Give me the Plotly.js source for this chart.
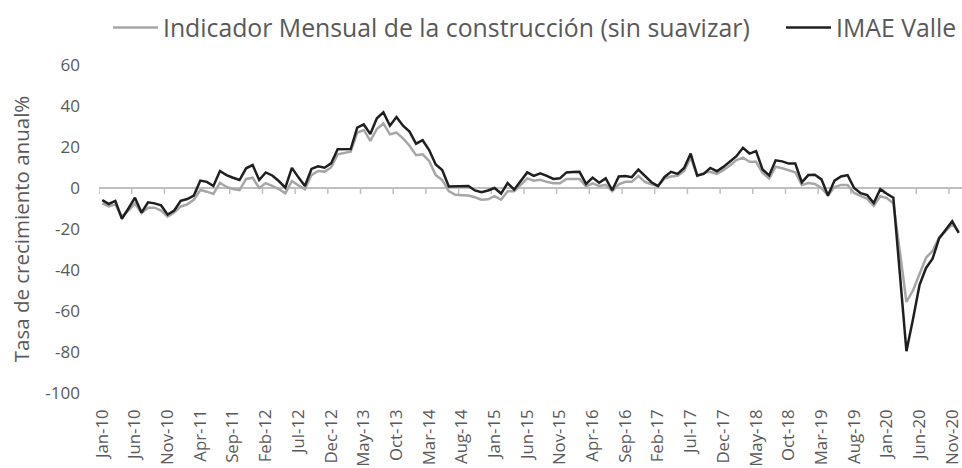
<!DOCTYPE html>
<html>
<head>
<meta charset="utf-8">
<script src="https://cdn.plot.ly/plotly-3.0.1.min.js"></script>
<style>html,body{margin:0;padding:0;background:#fff;}#chart{width:962px;height:468px;}</style>
</head>
<body>
<div id="chart"></div>
<script>
const monthNames = ["Jan","Feb","Mar","Apr","May","Jun","Jul","Aug","Sep","Oct","Nov","Dec"];
const years = ["10","11","12","13","14","15","16","17","18","19","20"];
const categories = [];
years.forEach(y => monthNames.forEach(m => categories.push(m + "-" + y)));

const seriesNames = ["Indicador Mensual de la construcción (sin suavizar)", "IMAE Valle"];

const construccion = [
  -7.5, -9, -8, -14, -11, -7.5, -12.3, -9.6, -9.6, -11, -14, -12,
  -9, -8, -5.8, -1, -1.8, -2.9, 2.6, 0.5, -0.5, -1, 4.4, 5,
  0, 2.4, 1, -0.5, -2.6, 3.4, 1.3, -0.6, 6.3, 8.3, 8, 10,
  16.4, 17.2, 17.7, 27, 28.3, 23, 28.8, 31.5, 26.2, 27, 24.2, 20.6,
  16, 16.4, 13.2, 6.3, 3.9, -1.5, -3.3, -3.5, -3.7, -4.5, -5.7, -5.5,
  -4, -5.7, -1.6, -1.6, 1.5, 4.7, 3.6, 4, 3, 2.3, 2.3, 4.4,
  4.4, 4.4, 0.8, 2.3, 1, 1.5, -1.6, 1.8, 3, 3, 5.9, 3,
  1.8, 0.9, 4.6, 5.6, 6, 8.3, 14.8, 5.8, 7.4, 7.9, 6.9, 8.7,
  11, 13.6, 14.8, 12.8, 12.8, 7.4, 4.6, 10.4, 9.6, 8.6, 7.7, 1.5,
  2.4, 2, 0, -3.7, 0.5, 1.5, 1.5, -2.4, -4, -5.3, -8.7, -4,
  -4.9, -7.4, -31, -55.6, -50, -42, -34, -30.7, -24.2, -21, -17.6, -21.2
];

const imaeValle = [
  -5.9, -7.8, -6.3, -15, -10, -4.7, -12, -7, -7.5, -8.5, -13, -11,
  -6.3, -5.4, -3.7, 3.6, 3, 1, 8.3, 6.3, 5, 3.9, 9.6, 11.2,
  3.9, 7.6, 6.1, 3.4, 0.2, 9.8, 5.2, 1, 9.3, 10.6, 9.9, 12,
  18.9, 18.9, 19, 29.4, 31, 26.3, 34, 36.9, 30.4, 34.6, 30.4, 27.5,
  21.6, 23.3, 18.5, 11.5, 8.8, 0.7, 0.8, 1, 1, -1.2, -2.1, -1.2,
  0, -2.7, 2.4, -0.8, 3.5, 7.6, 5.9, 7.2, 5.9, 4.4, 4.7, 7.6,
  7.8, 7.9, 2, 5.1, 2.6, 4.7, -1.1, 5.6, 5.8, 5.3, 9, 5.8,
  2.8, 0.9, 5.4, 7.9, 6.9, 9.8, 16.8, 6.1, 6.9, 9.8, 8.2, 10.3,
  13.1, 15.5, 19.6, 16.8, 18, 9, 6.1, 13.5, 13, 11.9, 11.9, 2.8,
  6.3, 6.5, 4.2, -3.7, 3.6, 5.6, 6.3, 0, -2.5, -3.5, -7.3, -0.6,
  -2.8, -4.7, -42, -79.6, -64, -47.4, -39, -34.5, -24.6, -20.5, -16.2, -21.9
];

const yTickVals = [-100, -80, -60, -40, -20, 0, 20, 40, 60];
const yTickText = yTickVals.map(v => String(v));
const xTickLabels = categories.filter((c, i) => i % 5 === 0);

const textColor = "#595959";
const axisColor = "#bfbfbf";
const yMin = -100, yMax = 60;

// small tick marks hanging from the zero axis at category boundaries (every 5 months)
const tickShapes = categories
  .map((c, i) => i)
  .filter(i => i % 5 === 0)
  .map(i => ({
    type: "line", xref: "x", yref: "y", ysizemode: "pixel", yanchor: 0,
    x0: i - 0.5, x1: i - 0.5, y0: 0, y1: -6,
    line: {color: axisColor, width: 1.5}, layer: "below"
  }));

const traces = [
  {x: categories, y: construccion, name: seriesNames[0], type: "scatter", mode: "lines",
   line: {color: "#a6a6a6", width: 2.5}, hoverinfo: "x+y", legend: "legend"},
  {x: categories, y: imaeValle, name: seriesNames[1], type: "scatter", mode: "lines",
   line: {color: "#1f1f1f", width: 2.5}, hoverinfo: "x+y", legend: "legend2"}
];

const legendFont = {family: "Open Sans", size: 24.8, color: textColor};

const layout = {
  width: 962, height: 468,
  margin: {l: 99, r: 0, t: 65, b: 75, pad: 0},
  paper_bgcolor: "#ffffff", plot_bgcolor: "#ffffff",
  font: {family: "Open Sans, sans-serif", color: textColor},
  showlegend: true,
  legend: {orientation: "h", x: 0.0104, xanchor: "left", y: 1.183, yanchor: "top",
           font: legendFont, itemwidth: 45, bgcolor: "rgba(0,0,0,0)"},
  legend2: {orientation: "h", x: 0.7903, xanchor: "left", y: 1.183, yanchor: "top",
            font: legendFont, itemwidth: 45, bgcolor: "rgba(0,0,0,0)"},
  xaxis: {type: "category", range: [-0.5, categories.length - 0.5], tickvals: xTickLabels,
          ticktext: xTickLabels, tickangle: -90, ticks: "", showline: false, showgrid: false,
          zeroline: false, tickfont: {size: 16.8, color: textColor}, ticklabelstandoff: 12},
  yaxis: {range: [yMin, yMax], tickvals: yTickVals, ticktext: yTickText, showgrid: false,
          zeroline: true, zerolinecolor: axisColor, zerolinewidth: 1.5, showline: false,
          ticks: "", tickfont: {size: 17, color: textColor}, ticklabelstandoff: 18,
          title: {text: "Tasa de crecimiento anual%", font: {size: 20.5, color: textColor}, standoff: 10}},
  shapes: tickShapes
};

Plotly.newPlot("chart", traces, layout, {displayModeBar: false, responsive: false});
</script>
</body>
</html>
